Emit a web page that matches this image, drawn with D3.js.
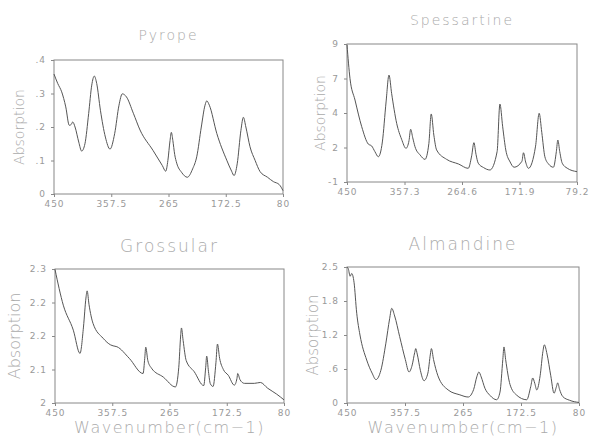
<!DOCTYPE html>
<html>
<head>
<meta charset="utf-8">
<script src="https://cdn.jsdelivr.net/npm/d3@7"></script>
<style>
  body { margin: 0; background: #fff; }
  svg { display: block; }
  .frame { fill: none; stroke: #888; stroke-width: 1; }
  .spec { fill: none; stroke: #555; stroke-width: 1; }
  .tick text { fill: #999; font-family: "DejaVu Sans", sans-serif; font-size: 9px; letter-spacing: 1px; }
  .tick line { stroke: #888; }
  .domain { display: none; }
  .title, .ylab, .xlab { fill: #aaa; font-family: "DejaVu Sans", sans-serif; font-weight: 300; }
</style>
</head>
<body>
<svg width="590" height="438"></svg>
<script>
// spectra: wavenumber (cm-1) and absorption
let pyropeWn = [450, 444, 437.6, 431, 425.3, 422, 419.8, 416, 410, 405.3, 400, 394, 389, 384.9, 381, 375, 367, 359.5, 352, 345, 339.6, 333, 321.8, 311, 290, 275, 269.5, 266, 262.5, 260.4, 258, 255, 251.7, 244, 234.6, 226, 219.4, 212, 206, 203.2, 199, 187, 170.9, 163, 159.1, 154, 148, 144, 140, 133.3, 125, 117.1, 105, 95.6, 86, 80]
let pyropeAbs = [0.358, 0.33, 0.305, 0.26, 0.205, 0.208, 0.215, 0.2, 0.155, 0.128, 0.15, 0.24, 0.325, 0.352, 0.33, 0.25, 0.17, 0.134, 0.18, 0.265, 0.299, 0.29, 0.241, 0.191, 0.13, 0.085, 0.068, 0.1, 0.16, 0.184, 0.16, 0.118, 0.092, 0.065, 0.05, 0.075, 0.111, 0.2, 0.265, 0.278, 0.265, 0.181, 0.101, 0.068, 0.055, 0.09, 0.19, 0.229, 0.2, 0.141, 0.1, 0.067, 0.05, 0.037, 0.028, 0.01]

let spessWn = [450, 445.2, 437.1, 426.3, 415.7, 410.2, 405, 399.5, 393, 387, 382.3, 378, 369.9, 362, 354.9, 350, 347.4, 344, 340.4, 332, 324.3, 318, 314.2, 310, 305.5, 289.4, 270, 254.6, 249, 245.4, 242, 238.4, 230, 219.6, 208, 203.5, 199, 194, 187, 180.6, 168, 165.5, 162, 157.5, 146, 140.2, 136, 131, 125, 117.2, 112.5, 110.1, 107, 103, 95, 79.2]
let spessAbs = [8.93, 6.51, 4.94, 3.01, 1.75, 1.61, 1.2, 0.83, 1.9, 4.8, 6.75, 5.4, 3.25, 2.1, 1.44, 2.0, 2.82, 2.2, 1.56, 0.95, 0.64, 1.8, 3.93, 2.4, 1.32, 0.64, 0.3, -0.01, 0.9, 1.85, 1.0, 0.36, 0.05, -0.13, 1.2, 4.65, 3.0, 1.32, 0.45, 0.07, 0.5, 1.12, 0.45, -0.01, 1.6, 3.98, 2.6, 0.83, 0.3, 0.07, 1.2, 2.04, 1.2, 0.36, 0.0, -0.25]

let grossWn = [450, 436.6, 420.4, 409.6, 404, 400, 398.1, 395, 388.5, 372.3, 360, 356.2, 350, 330, 307.7, 305, 303.4, 300, 294.1, 275, 255.4, 250, 247, 245.7, 243, 238, 225, 209.7, 206.5, 204.9, 202, 199, 194.6, 190, 187.5, 184, 178, 170, 160.3, 156, 154.8, 151, 144, 127.9, 118.2, 106.3, 92, 80]
let grossAbs = [2.299, 2.219, 2.163, 2.111, 2.17, 2.235, 2.251, 2.22, 2.178, 2.145, 2.13, 2.128, 2.126, 2.1, 2.066, 2.1, 2.125, 2.095, 2.078, 2.058, 2.036, 2.08, 2.15, 2.168, 2.14, 2.095, 2.07, 2.039, 2.08, 2.105, 2.07, 2.043, 2.037, 2.09, 2.132, 2.1, 2.075, 2.062, 2.04, 2.055, 2.066, 2.052, 2.044, 2.044, 2.046, 2.033, 2.02, 2.007]

let almWn = [450, 448, 445, 442.5, 438.8, 434.5, 429.3, 418.6, 410, 403.8, 396, 388, 382, 378.7, 374, 366, 357, 351.1, 346, 342, 340.4, 338, 333, 327.1, 321, 317, 315.4, 312, 305, 288.7, 270, 256.8, 248, 243, 239.7, 236, 230, 222, 211.4, 206, 201.5, 199.7, 197, 190, 180, 163.4, 157, 153.8, 150.5, 147.4, 142, 137.5, 135.3, 131, 125, 119.8, 116, 114, 111, 106, 95, 80]
let almAbs = [2.5, 2.47, 2.33, 2.38, 2.22, 1.65, 1.25, 0.79, 0.55, 0.43, 0.6, 1.1, 1.55, 1.74, 1.6, 1.22, 0.8, 0.57, 0.7, 0.93, 1.0, 0.9, 0.6, 0.41, 0.55, 0.9, 1.0, 0.8, 0.5, 0.24, 0.15, 0.11, 0.25, 0.48, 0.57, 0.48, 0.27, 0.14, 0.06, 0.2, 0.8, 1.03, 0.8, 0.34, 0.15, 0.06, 0.3, 0.46, 0.36, 0.24, 0.5, 0.95, 1.07, 0.9, 0.5, 0.18, 0.3, 0.37, 0.25, 0.12, 0.05, 0.01]

let titles = ["Pyrope", "Spessartine", "Grossular", "Almandine"]

let pyropeXTicks = [450, 357.5, 265, 172.5, 80]
let spessXTicks = [450, 357.3, 264.6, 171.9, 79.2]
let grossXTicks = [450, 357.5, 265, 172.5, 80]
let almXTicks = [450, 357.5, 265, 172.5, 80]

let pyropeYTicks = [0, 0.1, 0.2, 0.3, 0.4]
let pyropeYLabels = ["0", ".1", ".2", ".3", ".4"]
let spessYTicks = [-1, 1.5, 4, 6.5, 9]
let spessYLabels = ["-1", "2", "4", "7", "9"]
let grossYTicks = [2, 2.075, 2.15, 2.225, 2.3]
let grossYLabels = ["2", "2.1", "2.2", "2.2", "2.3"]
let almYTicks = [0, 0.625, 1.25, 1.875, 2.5]
let almYLabels = ["0", ".6", "1.2", "1.8", "2.5"]

const svg = d3.select('svg')

// one entry per panel: where the plot box sits on the page
const panels = [
  {wn: pyropeWn, ab: pyropeAbs, title: titles[0], xt: pyropeXTicks, yt: pyropeYTicks, yl: pyropeYLabels,
   x0: 54, x1: 283, y0: 60, y1: 194, titleY: 40, titleSize: 14, ylabX: 24, ylabSize: 14, xlab: false},
  {wn: spessWn, ab: spessAbs, title: titles[1], xt: spessXTicks, yt: spessYTicks, yl: spessYLabels,
   x0: 347, x1: 577, y0: 44, y1: 182, titleY: 25, titleSize: 14, ylabX: 325, ylabSize: 14, xlab: false},
  {wn: grossWn, ab: grossAbs, title: titles[2], xt: grossXTicks, yt: grossYTicks, yl: grossYLabels,
   x0: 55, x1: 284, y0: 269, y1: 403, titleY: 252, titleSize: 17, ylabX: 20, ylabSize: 16, xlab: true},
  {wn: almWn, ab: almAbs, title: titles[3], xt: almXTicks, yt: almYTicks, yl: almYLabels,
   x0: 347, x1: 579, y0: 267, y1: 403, titleY: 250, titleSize: 17, ylabX: 318, ylabSize: 15, xlab: true},
]

panels.forEach(p => {
  const x = d3.scaleLinear()
    .domain([p.xt[0], p.xt[p.xt.length - 1]])
    .range([p.x0, p.x1])
  const y = d3.scaleLinear()
    .domain([p.yt[0], p.yt[p.yt.length - 1]])
    .range([p.y1, p.y0])

  const g = svg.append('g')

  // box round the plot
  g.append('rect')
    .attr('class', 'frame')
    .attr('x', p.x0)
    .attr('y', p.y0)
    .attr('width', p.x1 - p.x0)
    .attr('height', p.y1 - p.y0)

  g.append('g')
    .attr('transform', `translate(0, ${p.y1})`)
    .call(d3.axisBottom(x).tickValues(p.xt).tickSize(3).tickPadding(4)
      .tickFormat(d => String(d)))

  g.append('g')
    .attr('transform', `translate(${p.x0}, 0)`)
    .call(d3.axisLeft(y).tickValues(p.yt).tickSize(3).tickPadding(5)
      .tickFormat((d, i) => p.yl[i]))

  const line = d3.line()
    .x((d, i) => x(p.wn[i]))
    .y(d => y(d))
    .curve(d3.curveMonotoneX)

  g.append('path')
    .datum(p.ab)
    .attr('class', 'spec')
    .attr('d', line)

  g.append('text')
    .attr('class', 'title')
    .attr('x', (p.x0 + p.x1) / 2)
    .attr('y', p.titleY)
    .attr('text-anchor', 'middle')
    .style('font-size', p.titleSize + 'px')
    .style('letter-spacing', '2px')
    .text(p.title)

  g.append('text')
    .attr('class', 'ylab')
    .attr('transform', `translate(${p.ylabX}, ${(p.y0 + p.y1) / 2}) rotate(-90)`)
    .attr('text-anchor', 'middle')
    .style('font-size', p.ylabSize + 'px')
    .text('Absorption')

  if (p.xlab) {
    g.append('text')
      .attr('class', 'xlab')
      .attr('x', (p.x0 + p.x1) / 2)
      .attr('y', p.y1 + 30)
      .attr('text-anchor', 'middle')
      .style('font-size', '16px')
      .style('letter-spacing', '1.5px')
      .text('Wavenumber(cm−1)')
  }
})
</script>
</body>
</html>
